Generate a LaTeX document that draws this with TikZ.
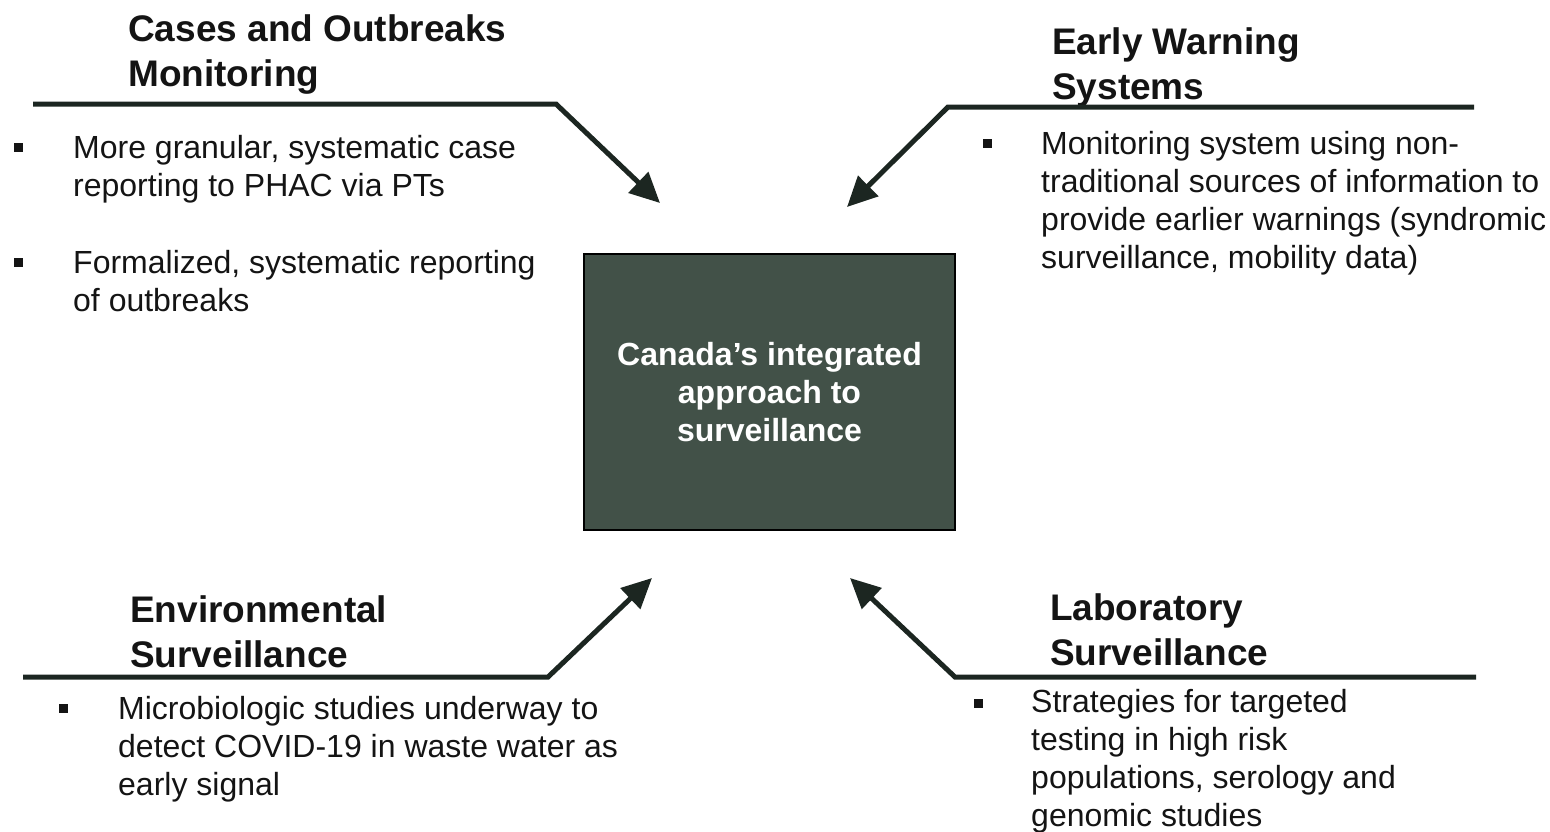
\documentclass[tikz,border=0pt]{standalone}
\usepackage{fontspec}
\setmainfont{Liberation Sans}
\usetikzlibrary{arrows.meta}
\definecolor{inkline}{RGB}{28,38,33}
\definecolor{hubfill}{RGB}{66,81,72}
\definecolor{bodyink}{RGB}{20,20,20}
\tikzset{
  heading/.style={anchor=north west,inner sep=0pt,align=left,text=bodyink,
    font=\fontsize{37}{45}\selectfont\bfseries},
  itemtext/.style={anchor=north west,inner sep=0pt,align=left,text=bodyink,
    font=\fontsize{32}{38}\selectfont},
  bulletmark/.style={fill=bodyink,inner sep=0pt,minimum size=9pt},
  feed/.style={draw=inkline,line width=5pt,line join=miter,
    -{Triangle[length=30pt,width=28pt]}},
}
\begin{document}
\begin{tikzpicture}[x=1pt,y=-1pt]
\useasboundingbox (0,0) rectangle (1550,831);

\node (hub) at (769.5,392) [draw=black,line width=2pt,fill=hubfill,minimum width=371pt,
  minimum height=276pt,align=center,text=white,font=\fontsize{32}{38}\selectfont\bfseries]
  {Canada's integrated\\approach to\\surveillance};

\node[heading] (hcases) at (128,14) {Cases and Outbreaks\\Monitoring};
\coordinate (cases0) at (33,104);
\coordinate (cases1) at (556,104);
\coordinate (cases2) at (660,203);
\draw[feed] (cases0) -- (cases1) -- (cases2);
\node[bulletmark] (bc1) at (18,147) {};
\node[itemtext] (tc1) at (73,135.5) {More granular, systematic case\\reporting to PHAC via PTs};
\node[bulletmark] (bc2) at (18,262) {};
\node[itemtext] (tc2) at (73,250.5) {Formalized, systematic reporting\\of outbreaks};

\node[heading] (hwarn) at (1052,27) {Early Warning\\Systems};
\coordinate (warn0) at (1474,107);
\coordinate (warn1) at (948,107);
\coordinate (warn2) at (847,207);
\draw[feed] (warn0) -- (warn1) -- (warn2);
\node[bulletmark] (bw1) at (987,143) {};
\node[itemtext] (tw1) at (1041,131.5) {Monitoring system using non-\\traditional sources of information to\\provide earlier warnings (syndromic\\surveillance, mobility data)};

\node[heading] (henv) at (130,595) {Environmental\\Surveillance};
\coordinate (env0) at (23,677);
\coordinate (env1) at (548,677);
\coordinate (env2) at (652,578);
\draw[feed] (env0) -- (env1) -- (env2);
\node[bulletmark] (be1) at (63,708) {};
\node[itemtext] (te1) at (118,696.5) {Microbiologic studies underway to\\detect COVID-19 in waste water as\\early signal};

\node[heading] (hlab) at (1050,593) {Laboratory\\Surveillance};
\coordinate (lab0) at (1476,677);
\coordinate (lab1) at (955,677);
\coordinate (lab2) at (850,578);
\draw[feed] (lab0) -- (lab1) -- (lab2);
\node[bulletmark] (bl1) at (978,703) {};
\node[itemtext] (tl1) at (1031,689.5) {Strategies for targeted\\testing in high risk\\populations, serology and\\genomic studies};
\end{tikzpicture}
\end{document}
